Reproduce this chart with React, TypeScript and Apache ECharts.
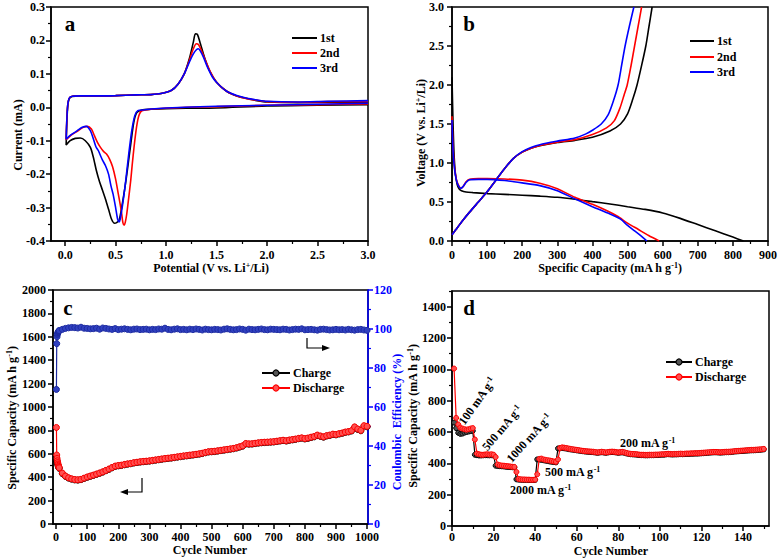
import React, { useEffect, useRef } from "react";
import * as echarts from "echarts";

const FONT = '"Liberation Serif", "Times New Roman", Times, serif';
const BLACK = "#000000";
const RED = "#ff0000";
const BLUE = "#0000ff";
const NAVY = "#1c2aa0";

// ---------------- Panel a: cyclic voltammetry (potential V, current mA) ----------------
const cvFirst: number[][] = [
  [3.0, 0.008], [2.5, 0.006], [2.0, 0.004], [1.5, -0.002], [1.2, -0.003], [1.0, -0.004], [0.85, -0.006],
  [0.76, -0.008], [0.71, -0.016], [0.68, -0.045], [0.65, -0.11], [0.62, -0.18], [0.59, -0.245], [0.56, -0.3],
  [0.535, -0.338], [0.51, -0.345], [0.49, -0.347], [0.46, -0.335], [0.43, -0.305], [0.4, -0.275], [0.37, -0.248],
  [0.34, -0.222], [0.31, -0.19], [0.28, -0.15], [0.25, -0.12], [0.2, -0.1], [0.15, -0.092], [0.1, -0.093],
  [0.05, -0.1], [0.01, -0.113],
  [0.015, -0.06], [0.025, 0.0], [0.04, 0.025], [0.07, 0.032], [0.15, 0.034], [0.3, 0.034], [0.5, 0.035],
  [0.7, 0.037], [0.85, 0.038], [0.95, 0.041], [1.05, 0.05], [1.12, 0.07], [1.18, 0.1], [1.23, 0.145],
  [1.27, 0.195], [1.29, 0.22], [1.31, 0.218], [1.34, 0.19], [1.38, 0.15], [1.43, 0.11], [1.5, 0.075],
  [1.6, 0.048], [1.7, 0.034], [1.8, 0.026], [1.9, 0.02], [2.0, 0.016], [2.3, 0.014], [2.6, 0.015], [3.0, 0.015],
];
const cvSecond: number[][] = [
  [3.0, 0.01], [2.5, 0.008], [2.0, 0.006], [1.5, 0.002], [1.2, 0.0], [1.0, -0.003], [0.85, -0.006],
  [0.78, -0.009], [0.75, -0.013], [0.73, -0.025], [0.715, -0.045], [0.7, -0.075], [0.683, -0.118],
  [0.665, -0.17], [0.65, -0.218], [0.63, -0.27], [0.61, -0.32], [0.595, -0.345], [0.585, -0.353],
  [0.572, -0.345], [0.56, -0.318], [0.545, -0.29], [0.526, -0.258], [0.5, -0.215], [0.47, -0.178],
  [0.44, -0.155], [0.41, -0.14], [0.38, -0.132], [0.35, -0.12], [0.32, -0.105], [0.29, -0.085],
  [0.26, -0.065], [0.22, -0.057], [0.18, -0.06], [0.12, -0.072], [0.06, -0.083], [0.01, -0.097],
  [0.015, -0.05], [0.025, 0.005], [0.04, 0.027], [0.07, 0.033], [0.15, 0.034], [0.3, 0.034], [0.5, 0.035],
  [0.7, 0.037], [0.85, 0.038], [0.95, 0.041], [1.05, 0.05], [1.12, 0.07], [1.18, 0.1], [1.23, 0.14],
  [1.27, 0.175], [1.3, 0.19], [1.32, 0.188], [1.35, 0.17], [1.39, 0.14], [1.44, 0.105], [1.5, 0.075],
  [1.6, 0.048], [1.7, 0.034], [1.8, 0.026], [1.9, 0.021], [2.0, 0.017], [2.3, 0.015], [2.6, 0.017], [3.0, 0.017],
];
const cvThird: number[][] = [
  [3.0, 0.012], [2.5, 0.009], [2.0, 0.006], [1.5, 0.003], [1.0, -0.002], [0.85, -0.005], [0.78, -0.008],
  [0.72, -0.01], [0.69, -0.025], [0.66, -0.07], [0.63, -0.14], [0.6, -0.22], [0.57, -0.29], [0.545, -0.335],
  [0.535, -0.343], [0.52, -0.335], [0.5, -0.3], [0.475, -0.26], [0.454, -0.235], [0.43, -0.2], [0.4, -0.175],
  [0.37, -0.158], [0.355, -0.148], [0.33, -0.13], [0.305, -0.118], [0.28, -0.095], [0.25, -0.07],
  [0.21, -0.057], [0.17, -0.06], [0.12, -0.07], [0.06, -0.082], [0.01, -0.095],
  [0.015, -0.05], [0.025, 0.005], [0.04, 0.027], [0.07, 0.033], [0.15, 0.034], [0.3, 0.034], [0.5, 0.035],
  [0.7, 0.037], [0.85, 0.038], [0.95, 0.041], [1.05, 0.05], [1.12, 0.07], [1.18, 0.1], [1.23, 0.135],
  [1.27, 0.16], [1.3, 0.172], [1.32, 0.175], [1.34, 0.168], [1.37, 0.15], [1.41, 0.12], [1.46, 0.09],
  [1.52, 0.068], [1.6, 0.048], [1.7, 0.035], [1.8, 0.027], [1.9, 0.022], [2.0, 0.018], [2.3, 0.016],
  [2.6, 0.018], [3.0, 0.02],
];
const aXTicks = [0, 0.5, 1, 1.5, 2, 2.5, 3];
const aXMinor = [0.25, 0.75, 1.25, 1.75, 2.25, 2.75];
const aYTicks = [-0.4, -0.3, -0.2, -0.1, 0, 0.1, 0.2, 0.3];
const aYMinor = [-0.35, -0.25, -0.15, -0.05, 0.05, 0.15, 0.25];

// ---------------- Panel b: charge / discharge profiles (mAh/g, V) ----------------
const dis1st: number[][] = [
  [0, 2.1], [3, 1.5], [6, 1.1], [10, 0.85], [15, 0.72], [20, 0.67], [27, 0.645], [40, 0.628], [60, 0.62],
  [100, 0.608], [150, 0.598], [200, 0.587], [250, 0.575], [300, 0.56], [350, 0.535], [400, 0.505],
  [450, 0.475], [500, 0.44], [550, 0.405], [600, 0.36], [650, 0.29], [700, 0.21], [750, 0.13], [800, 0.05], [830, 0.0],
];
const cha1st: number[][] = [
  [0, 0.08], [10, 0.14], [30, 0.26], [50, 0.37], [75, 0.5], [100, 0.63], [125, 0.78], [150, 0.93], [175, 1.06],
  [200, 1.14], [225, 1.19], [250, 1.22], [300, 1.262], [350, 1.29], [400, 1.33], [450, 1.41], [480, 1.5],
  [500, 1.63], [515, 1.82], [527, 2.0], [540, 2.25], [552, 2.5], [561, 2.75], [570, 3.0],
];
const dis2nd: number[][] = [
  [0, 1.6], [3, 1.2], [7, 0.95], [12, 0.8], [18, 0.72], [25, 0.68], [32, 0.7], [40, 0.76], [50, 0.79],
  [75, 0.8], [100, 0.8], [150, 0.795], [200, 0.78], [250, 0.74], [300, 0.67], [350, 0.56], [400, 0.47],
  [440, 0.39], [470, 0.32], [500, 0.23], [530, 0.15], [560, 0.07], [590, 0.0],
];
const cha2nd: number[][] = [
  [0, 0.08], [10, 0.14], [30, 0.26], [50, 0.37], [75, 0.5], [100, 0.63], [125, 0.78], [150, 0.93], [175, 1.06],
  [200, 1.14], [225, 1.19], [250, 1.225], [300, 1.268], [350, 1.3], [400, 1.365], [440, 1.45], [462, 1.54],
  [478, 1.7], [490, 1.87], [499, 2.0], [510, 2.25], [520, 2.5], [530, 2.75], [540, 3.0],
];
const dis3rd: number[][] = [
  [0, 1.55], [3, 1.15], [7, 0.93], [12, 0.79], [18, 0.71], [25, 0.675], [32, 0.7], [40, 0.75], [50, 0.785],
  [75, 0.79], [100, 0.79], [150, 0.775], [200, 0.745], [250, 0.71], [300, 0.645], [350, 0.54], [400, 0.44],
  [450, 0.345], [480, 0.28], [500, 0.2], [520, 0.13], [540, 0.06], [555, 0.0],
];
const cha3rd: number[][] = [
  [0, 0.08], [10, 0.14], [30, 0.26], [50, 0.37], [75, 0.5], [100, 0.63], [125, 0.78], [150, 0.93], [175, 1.06],
  [200, 1.145], [225, 1.2], [250, 1.235], [300, 1.28], [350, 1.32], [380, 1.37], [400, 1.42], [425, 1.5],
  [445, 1.62], [460, 1.8], [473, 2.0], [483, 2.25], [493, 2.5], [505, 2.75], [518, 3.0],
];
const bXTicks = [0, 100, 200, 300, 400, 500, 600, 700, 800, 900];
const bXMinor = [50, 150, 250, 350, 450, 550, 650, 750, 850];
const bYTicks = [0, 0.5, 1, 1.5, 2, 2.5, 3];
const bYMinor = [0.25, 0.75, 1.25, 1.75, 2.25, 2.75];

// ---------------- Panel c: long cycling at 1000 cycles ----------------
const cyclesC = [
  1, 2, 3, 4, 5, 6, 7, 8, 9,
  10, 20, 30, 40, 50, 60, 70, 80, 90, 100,
  110, 120, 130, 140, 150, 160, 170, 180, 190, 200,
  210, 220, 230, 240, 250, 260, 270, 280, 290, 300,
  310, 320, 330, 340, 350, 360, 370, 380, 390, 400,
  410, 420, 430, 440, 450, 460, 470, 480, 490, 500,
  510, 520, 530, 540, 550, 560, 570, 580, 590, 600,
  610, 620, 630, 640, 650, 660, 670, 680, 690, 700,
  710, 720, 730, 740, 750, 760, 770, 780, 790, 800,
  810, 820, 830, 840, 850, 860, 870, 880, 890, 900,
  910, 920, 930, 940, 950, 960, 970, 980, 990, 1000,
];
const dischargeC = [
  825, 590, 560, 540, 525, 512, 502, 493, 486,
  480, 435, 410, 395, 386, 380, 378, 382, 392, 402,
  410, 418, 427, 436, 446, 458, 470, 483, 495, 500,
  503, 509, 514, 518, 524, 528, 532, 535, 537, 540,
  544, 548, 552, 556, 560, 563, 566, 570, 574, 578,
  582, 585, 589, 592, 596, 600, 605, 612, 618, 620,
  622, 626, 630, 634, 638, 642, 646, 652, 660, 668,
  688, 685, 686, 690, 694, 697, 699, 700, 702, 704,
  708, 712, 716, 712, 718, 722, 726, 732, 736, 730,
  735, 742, 748, 760, 752, 745, 755, 760, 768, 765,
  772, 778, 786, 790, 798, 830, 812, 800, 840, 835,
];
const chargeC = [
  568, 545, 538, 525, 513, 503, 494, 487, 481,
  476, 431, 407, 392, 383, 377, 375, 379, 389, 399,
  407, 415, 424, 433, 443, 455, 467, 480, 492, 497,
  500, 506, 511, 515, 521, 525, 529, 532, 534, 537,
  541, 545, 549, 553, 557, 560, 563, 567, 571, 575,
  579, 582, 586, 589, 593, 597, 602, 609, 615, 617,
  619, 623, 627, 631, 635, 639, 643, 649, 657, 665,
  684, 682, 683, 687, 691, 694, 696, 697, 699, 701,
  705, 709, 713, 709, 715, 719, 723, 729, 733, 727,
  732, 739, 745, 756, 749, 742, 752, 757, 765, 762,
  769, 775, 783, 787, 795, 826, 808, 797, 836, 831,
];
const efficiencyC = [
  69, 92.5, 96, 97.2, 97.8, 98.2, 98.5, 98.8, 99,
  99.2, 99.8, 100.3, 100.6, 100.8, 100.7, 100.5, 100.9, 100.4, 100.3,
  100.1, 100.2, 100.4, 99.9, 100.5, 100.3, 100.0, 99.8, 100.2, 99.7,
  99.9, 100.1, 99.8, 99.6, 99.9, 100.0, 99.7, 99.8, 99.9, 99.6,
  99.8, 99.7, 100.0, 99.9, 100.4, 99.8, 99.6, 99.9, 100.1, 99.7,
  99.8, 99.6, 99.9, 99.7, 100.0, 99.8, 99.5, 99.9, 99.7, 99.6,
  99.8, 99.7, 99.5, 99.9, 100.1, 99.8, 99.6, 99.7, 100.0, 99.8,
  99.4, 99.9, 99.7, 99.6, 99.8, 100.0, 99.7, 99.6, 99.9, 99.8,
  99.7, 99.6, 99.9, 99.8, 99.5, 99.7, 99.9, 99.8, 100.1, 99.6,
  99.7, 99.8, 99.6, 99.4, 99.8, 99.9, 99.7, 99.5, 99.6, 99.8,
  99.6, 99.7, 99.5, 99.8, 99.6, 99.4, 99.7, 99.8, 99.5, 99.3,
];
const cXTicks = [0, 100, 200, 300, 400, 500, 600, 700, 800, 900, 1000];
const cXMinor = [50, 150, 250, 350, 450, 550, 650, 750, 850, 950];
const cYTicks = [0, 200, 400, 600, 800, 1000, 1200, 1400, 1600, 1800, 2000];
const cYMinor = [100, 300, 500, 700, 900, 1100, 1300, 1500, 1700, 1900];
const cY2Ticks = [0, 20, 40, 60, 80, 100, 120];
const cY2Minor = [10, 30, 50, 70, 90, 110];

// ---------------- Panel d: rate capability (cycles 1..150) ----------------
const dischargeD = [
  1005, 690, 648, 628, 622, 618, 615, 618, 622, 625,
  552, 462, 458, 455, 455, 457, 458, 456, 458, 455,
  440, 392, 388, 386, 385, 383, 382, 380, 378, 377,
  345, 300, 298, 297, 297, 296, 296, 295, 295, 296,
  330, 428, 430, 425, 422, 420, 418, 415, 412, 410,
  425, 498, 502, 500, 498, 495, 492, 490, 488, 486,
  484, 482, 480, 478, 477, 476, 475, 474, 472, 470,
  472, 474, 472, 470, 472, 474, 475, 474, 472, 470,
  472, 473, 470, 466, 463, 461, 460, 459, 458, 456,
  455, 455, 454, 454, 455, 455, 455, 456, 456, 457,
  458, 458, 460, 461, 460, 459, 460, 460, 461, 462,
  461, 462, 463, 463, 464, 464, 465, 465, 466, 467,
  468, 469, 470, 471, 472, 473, 473, 472, 471, 472,
  473, 474, 474, 475, 476, 478, 479, 480, 481, 482,
  483, 484, 485, 486, 486, 487, 488, 489, 490, 492,
];
const chargeD = [
  660, 625, 595, 588, 590, 596, 600, 603, 606, 608,
  455, 452, 450, 450, 451, 452, 452, 451, 452, 450,
  385, 383, 382, 381, 380, 378, 377, 376, 375, 374,
  298, 296, 295, 294, 294, 294, 293, 293, 293, 294,
  425, 424, 422, 420, 417, 415, 412, 410, 408, 406,
  495, 496, 498, 496, 494, 491, 489, 487, 485, 483,
  481, 479, 477, 475, 474, 473, 472, 471, 469, 467,
  469, 471, 469, 467, 469, 471, 472, 471, 469, 467,
  469, 470, 467, 463, 460, 458, 457, 456, 455, 453,
  452, 452, 451, 451, 452, 452, 452, 453, 453, 454,
  455, 455, 457, 458, 457, 456, 457, 457, 458, 459,
  458, 459, 460, 460, 461, 461, 462, 462, 463, 464,
  465, 466, 467, 468, 469, 470, 470, 469, 468, 469,
  470, 471, 471, 472, 473, 475, 476, 477, 478, 479,
  480, 481, 482, 483, 483, 484, 485, 486, 487, 489,
];
const dXTicks = [0, 20, 40, 60, 80, 100, 120, 140];
const dXMinor = [10, 30, 50, 70, 90, 110, 130, 150];
const dYTicks = [0, 200, 400, 600, 800, 1000, 1200, 1400];
const dYMinor = [100, 300, 500, 700, 900, 1100, 1300, 1500];

const rateLabels = ["100 mA g", "500 mA g", "1000 mA g", "500 mA g", "2000 mA g", "200 mA g"];

// ---------------- helpers ----------------
const tickFont = { fontFamily: FONT, fontWeight: "bold" as const, fontSize: 12 };

function axisPair(gridIndex: number, min: number, max: number, major: number[], minor: number[],
  fmt: (v: number) => string, margin: number, position: string, color = BLACK) {
  const primary: any = {
    type: "value", gridIndex, min, max, position,
    axisLine: { show: true, onZero: false, lineStyle: { color, width: 1.5 } },
    axisTick: { show: true, inside: false, length: 5, customValues: major, lineStyle: { color, width: 1.5 } },
    axisLabel: { show: true, customValues: major, formatter: fmt, margin, color, ...tickFont },
    splitLine: { show: false },
  };
  const second: any = {
    type: "value", gridIndex, min, max, position,
    axisLine: { show: false, onZero: false },
    axisTick: { show: true, inside: false, length: 3, customValues: minor, lineStyle: { color, width: 1.2 } },
    axisLabel: { show: false },
    splitLine: { show: false },
  };
  return [primary, second];
}

const sup = {
  fontFamily: FONT, fontWeight: "bold", fontSize: 8, verticalAlign: "top", padding: [0, 0, 5, 0],
};

function txt(x: number, y: number, text: string, o: any = {}) {
  return {
    type: "text", x, y, rotation: o.rotation || 0, z: 100,
    style: {
      text, fill: o.color || BLACK, fontFamily: FONT, fontWeight: "bold", fontSize: o.size || 12,
      align: o.align || "center", verticalAlign: "middle",
      rich: { sup: { ...sup, fill: o.color || BLACK } },
    },
  };
}

function legendItem(x1: number, x2: number, y: number, color: string, label: string, marker?: { fill: string; stroke: string }) {
  const els: any[] = [
    { type: "line", z: 100, shape: { x1, y1: y, x2, y2: y }, style: { stroke: color, lineWidth: 2 } },
  ];
  if (marker) {
    els.push({ type: "circle", z: 101, shape: { cx: (x1 + x2) / 2, cy: y, r: 3 }, style: { fill: marker.fill, stroke: marker.stroke, lineWidth: 1.2 } });
  }
  els.push(txt(x2 + 3, y, label, { align: "left" }));
  return els;
}

function lineSeries(name: string, data: number[][], color: string, xi: number, yi: number, z = 2) {
  return {
    type: "line", name, data, xAxisIndex: xi, yAxisIndex: yi, showSymbol: false, symbol: "none",
    smooth: 0.25, lineStyle: { color, width: 1.6 }, z,
  };
}

function markerSeries(name: string, data: number[][], color: string, fill: string, xi: number, yi: number, size: number, z = 2) {
  return {
    type: "line", name, data, xAxisIndex: xi, yAxisIndex: yi, symbol: "circle", symbolSize: size, showSymbol: true,
    lineStyle: { color, width: 1.2 }, itemStyle: { color: fill, borderColor: color, borderWidth: 1 }, z,
  };
}

const f1 = (v: number) => v.toFixed(1);
const f0 = (v: number) => String(Math.round(v));

export default function App() {
  const ref = useRef<HTMLDivElement>(null);
  useEffect(() => {
    document.body.style.margin = "0";
    if (!ref.current) return;
    const chart = echarts.init(ref.current, null, { renderer: "svg" });

    const gridStyle = { show: true, borderColor: BLACK, borderWidth: 1.5, backgroundColor: "transparent", outerBoundsMode: "none" };
    const grids = [
      { ...gridStyle, left: 51, top: 7, width: 317, height: 234 },
      { ...gridStyle, left: 452, top: 7, width: 316, height: 234 },
      { ...gridStyle, left: 53, top: 290, width: 315, height: 234 },
      { ...gridStyle, left: 452, top: 291, width: 317, height: 235 },
    ];

    const xAxes = [
      ...axisPair(0, -0.14, 3, aXTicks, aXMinor, f1, 8, "bottom"),
      ...axisPair(1, 0, 900, bXTicks, bXMinor, f0, 8, "bottom"),
      ...axisPair(2, -10, 1003, cXTicks, cXMinor, f0, 7, "bottom"),
      ...axisPair(3, 0, 152.5, dXTicks, dXMinor, f0, 5, "bottom"),
    ];
    const yAxes = [
      ...axisPair(0, -0.4, 0.3, aYTicks, aYMinor, f1, 6, "left"),
      ...axisPair(1, 0, 3, bYTicks, bYMinor, f1, 8, "left"),
      ...axisPair(2, 0, 2000, cYTicks, cYMinor, f0, 7, "left"),
      ...axisPair(2, 0, 120, cY2Ticks, cY2Minor, f0, 6, "right", BLUE),
      ...axisPair(3, 0, 1500, dYTicks, dYMinor, f0, 6, "left"),
    ];

    const series: any[] = [
      lineSeries("1st", cvFirst, BLACK, 0, 0, 2),
      lineSeries("2nd", cvSecond, RED, 0, 0, 3),
      lineSeries("3rd", cvThird, BLUE, 0, 0, 4),
      lineSeries("1st", dis1st, BLACK, 2, 2, 2),
      lineSeries("1st", cha1st, BLACK, 2, 2, 2),
      lineSeries("2nd", dis2nd, RED, 2, 2, 3),
      lineSeries("2nd", cha2nd, RED, 2, 2, 3),
      lineSeries("3rd", dis3rd, BLUE, 2, 2, 4),
      lineSeries("3rd", cha3rd, BLUE, 2, 2, 4),
      markerSeries("Charge", cyclesC.map((c, i) => [c, chargeC[i]]), BLACK, "#555555", 4, 4, 6, 2),
      markerSeries("Discharge", cyclesC.map((c, i) => [c, dischargeC[i]]), RED, "#ff5050", 4, 4, 6, 3),
      markerSeries("Coulombic Efficiency", cyclesC.map((c, i) => [c, efficiencyC[i]]), NAVY, "#3040c0", 4, 6, 6, 3),
      markerSeries("Charge", chargeD.map((v, i) => [i + 1, v]), BLACK, "#555555", 6, 8, 5, 2),
      markerSeries("Discharge", dischargeD.map((v, i) => [i + 1, v]), RED, "#ff5050", 6, 8, 5, 3),
    ];

    const capName = "Specific Capacity (mA h g{sup|-1})";
    const graphics: any[] = [
      // panel letters
      txt(70, 24, "a", { size: 21 }),
      txt(469, 24, "b", { size: 21 }),
      txt(68, 308, "c", { size: 21 }),
      txt(469, 308, "d", { size: 21 }),
      // axis names
      txt(18, 135, "Current (mA)", { rotation: Math.PI / 2 }),
      txt(211, 268, "Potential (V vs. Li{sup|+}/Li)"),
      txt(421, 133, "Voltage (V vs. Li{sup|+}/Li)", { rotation: Math.PI / 2 }),
      txt(610, 268, capName),
      txt(12, 418, capName, { rotation: Math.PI / 2 }),
      txt(210, 550, "Cycle Number"),
      txt(397, 422, "Coulombic  Efficiency (%)", { rotation: Math.PI / 2, color: BLUE }),
      txt(413, 416, capName, { rotation: Math.PI / 2 }),
      txt(611, 551, "Cycle Number"),
      // legends
      ...legendItem(292, 317, 38, BLACK, "1st"),
      ...legendItem(292, 317, 53, RED, "2nd"),
      ...legendItem(292, 317, 68, BLUE, "3rd"),
      ...legendItem(690, 714, 41, BLACK, "1st"),
      ...legendItem(690, 714, 57, RED, "2nd"),
      ...legendItem(690, 714, 72, BLUE, "3rd"),
      ...legendItem(262, 290, 373, BLACK, "Charge", { fill: "#555555", stroke: BLACK }),
      ...legendItem(262, 290, 388, RED, "Discharge", { fill: "#ff5050", stroke: RED }),
      ...legendItem(666, 692, 362, BLACK, "Charge", { fill: "#555555", stroke: BLACK }),
      ...legendItem(666, 692, 377, RED, "Discharge", { fill: "#ff5050", stroke: RED }),
      // axis indicator arrows in panel c
      { type: "polyline", z: 100, shape: { points: [[307, 338], [307, 348], [324, 348]] }, style: { stroke: BLACK, lineWidth: 1.2, fill: "none" } },
      { type: "polygon", z: 100, shape: { points: [[330, 348], [322, 345], [322, 351]] }, style: { fill: BLACK } },
      { type: "polyline", z: 100, shape: { points: [[142, 478], [142, 492], [126, 492]] }, style: { stroke: BLACK, lineWidth: 1.2, fill: "none" } },
      { type: "polygon", z: 100, shape: { points: [[120, 492], [128, 489], [128, 495]] }, style: { fill: BLACK } },
      // rate annotations in panel d
      txt(477, 401, rateLabels[0] + "{sup|-1}", { rotation: (55 * Math.PI) / 180 }),
      txt(502, 428, rateLabels[1] + "{sup|-1}", { rotation: (50 * Math.PI) / 180 }),
      txt(529, 438, rateLabels[2] + "{sup|-1}", { rotation: (48 * Math.PI) / 180 }),
      txt(545, 472, rateLabels[3] + "{sup|-1}", { align: "left" }),
      txt(510, 490, rateLabels[4] + "{sup|-1}", { align: "left" }),
      txt(620, 443, rateLabels[5] + "{sup|-1}", { align: "left" }),
    ];

    chart.setOption({
      animation: false,
      backgroundColor: "#ffffff",
      textStyle: { fontFamily: FONT },
      grid: grids,
      xAxis: xAxes,
      yAxis: yAxes,
      series,
      graphic: { elements: graphics },
    });
    return () => chart.dispose();
  }, []);
  return <div ref={ref} style={{ width: 778, height: 559 }} />;
}
